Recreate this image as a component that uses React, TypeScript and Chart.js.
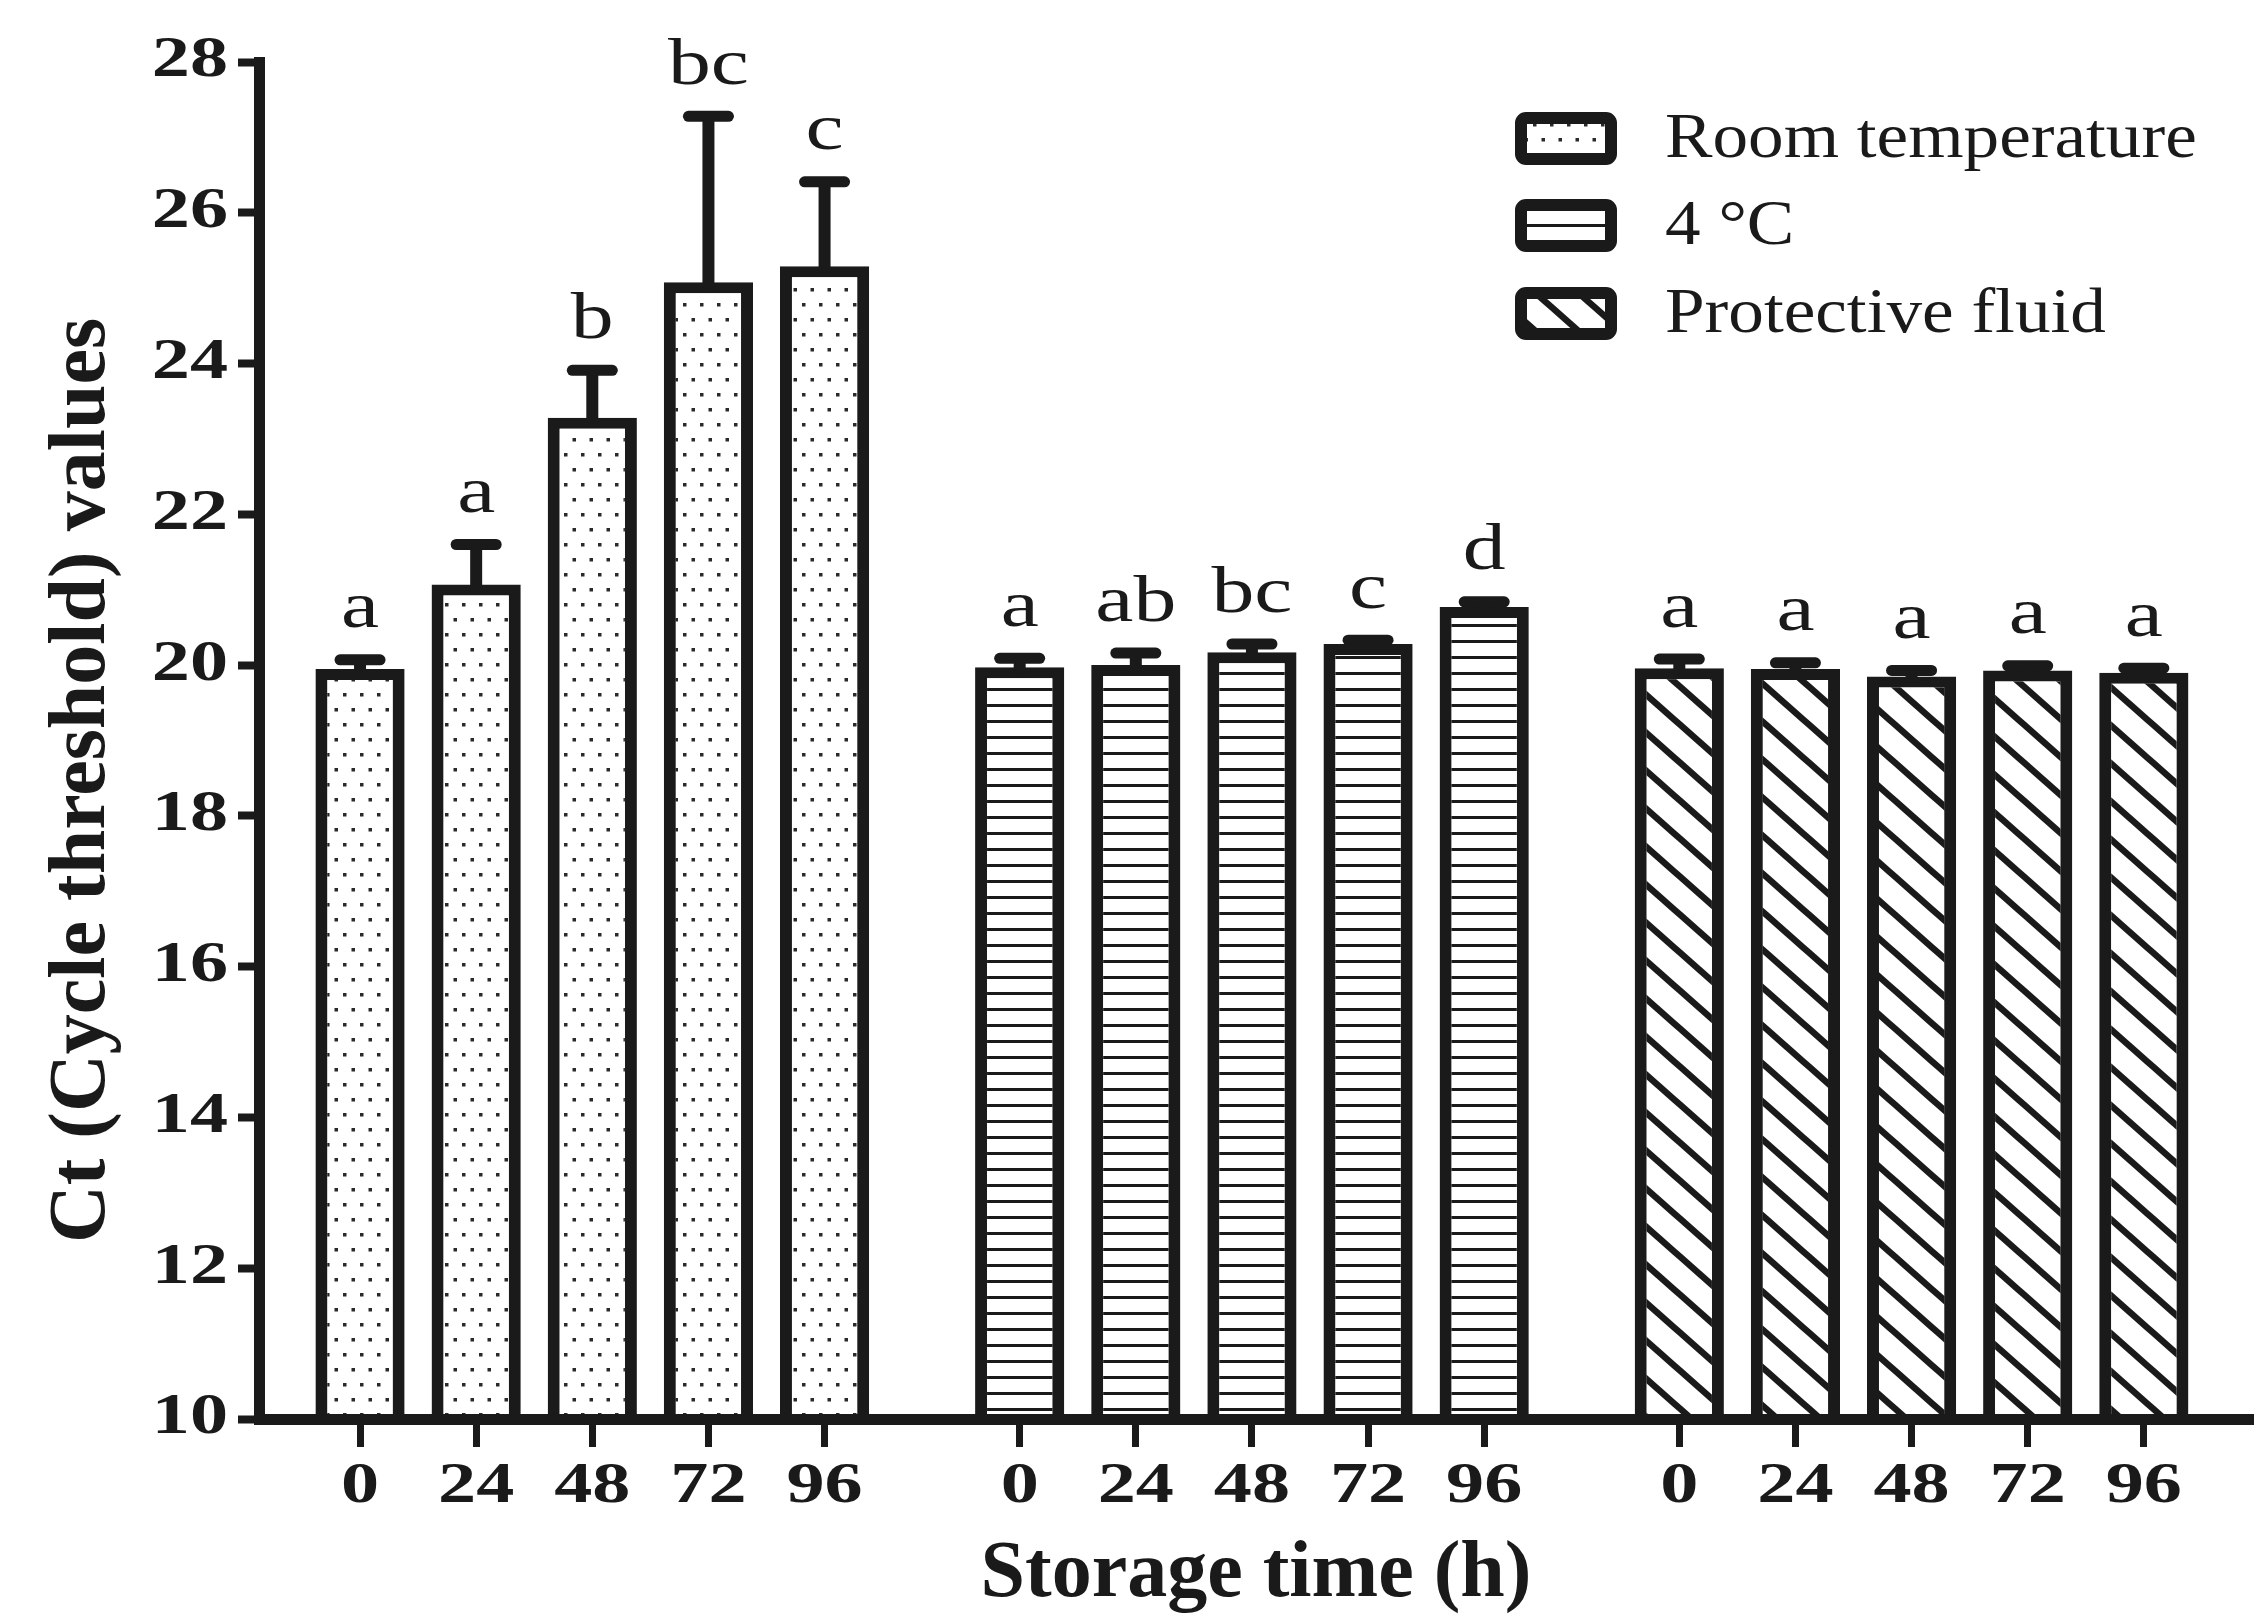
import { useEffect, useRef } from "react";
import { Chart, registerables } from "chart.js";

Chart.register(...registerables);

// ---------- data ----------
const timeLabels = ["0", "24", "48", "72", "96"];
const seriesNames = ["Room temperature", "4 °C", "Protective fluid"];

const roomMeans = [19.95, 21.07, 23.28, 25.08, 25.29];
const roomErrors = [0.12, 0.53, 0.63, 2.2, 1.12];
const roomLetters = ["a", "a", "b", "bc", "c"];

const coldMeans = [19.97, 20.0, 20.17, 20.28, 20.77];
const coldErrors = [0.12, 0.16, 0.11, 0.05, 0.07];
const coldLetters = ["a", "ab", "bc", "c", "d"];

const fluidMeans = [19.96, 19.95, 19.85, 19.93, 19.9];
const fluidErrors = [0.12, 0.08, 0.08, 0.06, 0.06];
const fluidLetters = ["a", "a", "a", "a", "a"];

const yMin = 10;
const yMax = 28;
const yStep = 2;
const yTickLabels = ["10", "12", "14", "16", "18", "20", "22", "24", "26", "28"];

const xAxisTitle = "Storage time (h)";
const yAxisTitle = "Ct (Cycle threshold) values";

// ---------- layout / style constants ----------
const W = 2256;
const H = 1619;
const GROUP_STEP = 5.68; // distance between group starts, in bar slots
const X_MIN = -0.87;
const X_MAX = 16.3;
const INK = "#1a1a1a";
const SERIF = '"Liberation Serif", "Times New Roman", Times, serif';
const TICK_FONT = `bold 56px ${SERIF}`;
const TICK_STRETCH = 1.36;

const meansByGroup = [roomMeans, coldMeans, fluidMeans];
const errorsByGroup = [roomErrors, coldErrors, fluidErrors];
const lettersByGroup = [roomLetters, coldLetters, fluidLetters];

const slotPos = (g: number, i: number) => g * GROUP_STEP + i;
const allPositions: number[] = [];
const allTickLabels: string[] = [];
meansByGroup.forEach((arr, g) =>
  arr.forEach((_, i) => {
    allPositions.push(slotPos(g, i));
    allTickLabels.push(timeLabels[i]);
  })
);

function makePattern(
  ctx: CanvasRenderingContext2D,
  w: number,
  h: number,
  draw: (g: CanvasRenderingContext2D) => void
) {
  const c = document.createElement("canvas");
  c.width = w;
  c.height = h;
  const g = c.getContext("2d")!;
  g.fillStyle = "#ffffff";
  g.fillRect(0, 0, w, h);
  draw(g);
  return ctx.createPattern(c, "repeat")!;
}

function buildPatterns(ctx: CanvasRenderingContext2D) {
  const dots = makePattern(ctx, 17, 30, (g) => {
    g.fillStyle = "#2a2a2a";
    g.fillRect(3, 3, 3.5, 3.5);
    g.fillRect(11.5, 18, 3.5, 3.5);
  });
  const lines = makePattern(ctx, 8, 16, (g) => {
    g.fillStyle = INK;
    g.fillRect(0, 0, 8, 3);
  });
  const dw = 43;
  const dh = 38;
  const diag = makePattern(ctx, dw, dh, (g) => {
    g.strokeStyle = INK;
    g.lineWidth = 6.5;
    for (let k = -1; k <= 1; k++) {
      g.beginPath();
      g.moveTo(-dw, -dh + k * dh);
      g.lineTo(2 * dw, 2 * dh + k * dh);
      g.stroke();
    }
  });
  return [dots, lines, diag];
}

function stretchedText(
  c: CanvasRenderingContext2D,
  text: string,
  x: number,
  y: number,
  sx: number,
  align: CanvasTextAlign,
  baseline: CanvasTextBaseline
) {
  c.save();
  c.translate(x, y);
  c.scale(sx, 1);
  c.textAlign = align;
  c.textBaseline = baseline;
  c.fillText(text, 0, 0);
  c.restore();
}

export default function App() {
  const ref = useRef<HTMLCanvasElement | null>(null);

  useEffect(() => {
    const canvas = ref.current!;
    const ctx = canvas.getContext("2d")!;
    const patterns = buildPatterns(ctx);

    const annotate = {
      id: "annotate",
      afterDraw(chart: any) {
        const c = chart.ctx as CanvasRenderingContext2D;
        const xScale = chart.scales.x;
        const yScale = chart.scales.y;
        const area = chart.chartArea;
        c.save();
        c.fillStyle = INK;

        // tick labels (wide bold serif, as in the original figure)
        c.font = TICK_FONT;
        yTickLabels.forEach((lab, k) => {
          const y = yScale.getPixelForValue(yMin + k * yStep);
          stretchedText(c, lab, area.left - 31, y, TICK_STRETCH, "right", "middle");
        });
        allPositions.forEach((p, k) => {
          const x = xScale.getPixelForValue(p);
          stretchedText(c, allTickLabels[k], x, area.bottom + 83, TICK_STRETCH, "center", "alphabetic");
        });

        // error bars + significance letters
        chart.data.datasets.forEach((_ds: any, g: number) => {
          const meta = chart.getDatasetMeta(g);
          meta.data.forEach((bar: any, i: number) => {
            const mean = meansByGroup[g][i];
            const err = errorsByGroup[g][i];
            const topY = yScale.getPixelForValue(mean);
            const capY = yScale.getPixelForValue(mean + err);
            c.strokeStyle = INK;
            c.lineWidth = 12;
            c.lineCap = "butt";
            c.beginPath();
            c.moveTo(bar.x, topY + 6);
            c.lineTo(bar.x, capY);
            c.stroke();
            c.lineWidth = 11;
            c.lineCap = "round";
            c.beginPath();
            c.moveTo(bar.x - 20, capY);
            c.lineTo(bar.x + 20, capY);
            c.stroke();
            c.fillStyle = INK;
            c.font = `66px ${SERIF}`;
            stretchedText(c, lettersByGroup[g][i], bar.x, capY - 5.5 - 27, 1.3, "center", "alphabetic");
          });
        });

        // legend
        const boxX = 1515;
        const boxW = 102;
        const boxH = 53;
        const rowTops = [112, 199, 287];
        seriesNames.forEach((name, k) => {
          const y = rowTops[k];
          c.beginPath();
          (c as any).roundRect(boxX + 6, y + 6, boxW - 12, boxH - 12, 5);
          c.fillStyle = patterns[k];
          c.fill();
          c.lineWidth = 12;
          c.strokeStyle = INK;
          c.lineJoin = "round";
          c.stroke();
          c.fillStyle = INK;
          c.font = `63px ${SERIF}`;
          stretchedText(c, name, 1665, y + boxH / 2 + 2, 1.13, "left", "middle");
        });
        c.restore();
      },
    };

    const chart = new Chart(ctx, {
      type: "bar",
      data: {
        datasets: meansByGroup.map((means, g) => ({
          label: seriesNames[g],
          data: means.map((v, i) => ({ x: slotPos(g, i), y: v })),
          backgroundColor: patterns[g],
          borderColor: INK,
          borderWidth: { top: 11, left: 12, right: 12, bottom: 0 },
          borderSkipped: "start",
          grouped: false,
          barPercentage: 0.96,
          categoryPercentage: 0.8,
        })) as any,
      },
      options: {
        animation: false,
        responsive: false,
        devicePixelRatio: 1,
        layout: { padding: { top: 62, right: 3, bottom: 0, left: 0 } },
        plugins: {
          legend: { display: false },
          tooltip: { enabled: false },
        },
        scales: {
          x: {
            type: "linear",
            offset: false,
            min: X_MIN,
            max: X_MAX,
            afterBuildTicks: (scale: any) => {
              scale.ticks = allPositions.map((v) => ({ value: v }));
            },
            afterFit: (scale: any) => {
              scale.height = 200;
            },
            ticks: {
              display: false,
              autoSkip: false,
              maxRotation: 0,
              minRotation: 0,
            },
            grid: {
              display: true,
              offset: false,
              drawOnChartArea: false,
              drawTicks: true,
              tickLength: 28,
              tickWidth: 7,
              tickColor: INK,
            },
            border: { display: true, color: INK, width: 11, z: 1 },
            title: {
              display: true,
              text: xAxisTitle,
              color: INK,
              font: { family: SERIF, size: 80, weight: "bold" },
              padding: { top: 0, bottom: -4 },
            },
          },
          y: {
            type: "linear",
            min: yMin,
            max: yMax,
            beginAtZero: false,
            afterFit: (scale: any) => {
              scale.width = 259;
            },
            ticks: {
              display: false,
              stepSize: yStep,
            },
            grid: {
              display: true,
              drawOnChartArea: false,
              drawTicks: true,
              tickLength: 21,
              tickWidth: 8,
              tickColor: INK,
            },
            border: { display: true, color: INK, width: 11, z: 1 },
            title: {
              display: true,
              text: yAxisTitle + "    ",
              color: INK,
              font: { family: SERIF, size: 80, weight: "bold" },
              padding: { top: 35, bottom: 0 },
            },
          },
        },
      } as any,
      plugins: [annotate],
    });

    return () => chart.destroy();
  }, []);

  return (
    <div
      style={{
        position: "fixed",
        left: 0,
        top: 0,
        width: W,
        height: H,
        background: "#ffffff",
      }}
    >
      <canvas ref={ref} width={W} height={H} style={{ width: W, height: H, display: "block" }} />
    </div>
  );
}
